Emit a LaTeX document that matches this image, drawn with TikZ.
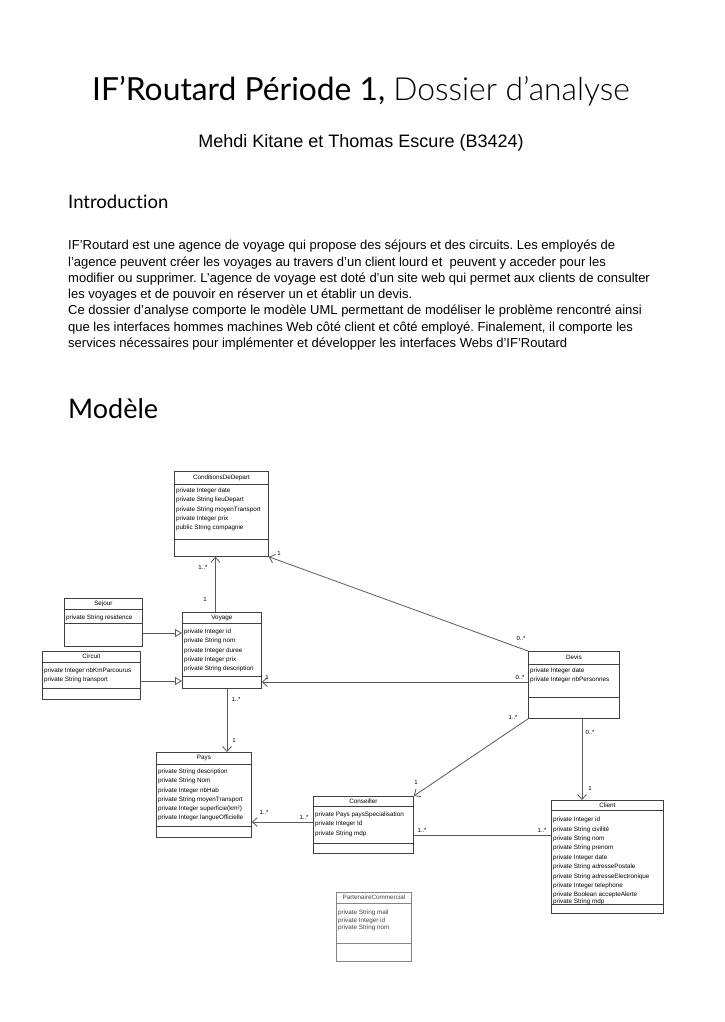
\documentclass[tikz,border=0pt]{standalone}
\usepackage{fontspec}
\setmainfont{Liberation Sans}
\newfontfamily\gill{Lato}[Ligatures={TeX,NoCommon}]
\newfontfamily\gilllight{Lato Light}[Ligatures={TeX,NoCommon}]
\usetikzlibrary{arrows.meta}
\definecolor{umlgray}{HTML}{404040}
\definecolor{linkgray}{HTML}{5A5A5A}
\definecolor{fadegray}{HTML}{858585}
\tikzset{
  umlbox/.style={draw=umlgray, line width=0.8pt, anchor=north west, inner sep=0pt},
  umlsep/.style={draw=umlgray, line width=0.8pt},
  umltitle/.style={font=\fontsize{6.3}{7}\selectfont, inner sep=0pt},
  umlattr/.style={font=\fontsize{6.3}{9.2}\selectfont, align=left, anchor=north west, inner sep=0pt},
  mult/.style={font=\fontsize{6}{7}\selectfont, inner sep=0pt},
  assoc/.style={draw=linkgray, line width=0.8pt},
  navig/.style={assoc, -{Straight Barb[length=5pt,width=9pt]}},
  generalise/.style={assoc, -{Triangle[open,length=7pt,width=8pt]}}
}
\frenchspacing

\begin{document}
\begin{tikzpicture}[x=1pt,y=-1pt]
\useasboundingbox[fill=white] (0,0) rectangle (724,1022);
\node[font=\gill\fontsize{31.8}{32}\selectfont, anchor=base] (title) at (361,101) {IF’Routard Période 1, {\gilllight Dossier d’analyse}};
\node[font=\fontsize{18}{18}\selectfont, anchor=base] (authors) at (361,147) {Mehdi Kitane et Thomas Escure (B3424)};
\node[font=\gill\fontsize{18.5}{19}\selectfont, anchor=base west, inner sep=0pt] (intro) at (68,208) {Introduction};
\node[font=\fontsize{13}{16.3}\selectfont, align=left, anchor=north west, inner sep=0pt] (introtext) at (68,240) {IF’Routard est une agence de voyage qui propose des séjours et des circuits. Les employés de\\
l’agence peuvent créer les voyages au travers d’un client lourd et \ peuvent y acceder pour les\\
modifier ou supprimer. L’agence de voyage est doté d’un site web qui permet aux clients de consulter\\
les voyages et de pouvoir en réserver un et établir un devis.\\
Ce dossier d’analyse comporte le modèle UML permettant de modéliser le problème rencontré ainsi\\
que les interfaces hommes machines Web côté client et côté employé. Finalement, il comporte les\\
services nécessaires pour implémenter et développer les interfaces Webs d’IF’Routard};
\node[font=\gill\fontsize{27}{27}\selectfont, anchor=base west, inner sep=0pt] (modele) at (68,418) {Modèle};

\node[umlbox, minimum width=94, minimum height=85] (cdd) at (174,471) {};
\draw[umlsep] ([yshift=-13pt]cdd.north west) -- ([yshift=-13pt]cdd.north east);
\draw[umlsep] ([yshift=-68pt]cdd.north west) -- ([yshift=-68pt]cdd.north east);
\node[umltitle] (cdd-title) at ([yshift=-6.5pt]cdd.north) {ConditionsDeDepart};
\node[umlattr] (cdd-attr) at (176,488) {private Integer date\\private String lieuDepart\\private String moyenTransport\\private Integer prix\\public String compagnie};

\node[umlbox, minimum width=78, minimum height=48] (sejour) at (64,598) {};
\draw[umlsep] ([yshift=-11pt]sejour.north west) -- ([yshift=-11pt]sejour.north east);
\draw[umlsep] ([yshift=-25pt]sejour.north west) -- ([yshift=-25pt]sejour.north east);
\node[umltitle] (sejour-title) at ([yshift=-5.5pt]sejour.north) {Sejour};
\node[umlattr] (sejour-attr) at (66,615) {private String residence};

\node[umlbox, minimum width=98, minimum height=48] (circuit) at (42,651) {};
\draw[umlsep] ([yshift=-11pt]circuit.north west) -- ([yshift=-11pt]circuit.north east);
\draw[umlsep] ([yshift=-37pt]circuit.north west) -- ([yshift=-37pt]circuit.north east);
\node[umltitle] (circuit-title) at ([yshift=-5.5pt]circuit.north) {Circuit};
\node[umlattr] (circuit-attr) at (44,668) {private Integer nbKmParcourus\\private String transport};

\node[umlbox, minimum width=79, minimum height=76] (voyage) at (182,612) {};
\draw[umlsep] ([yshift=-11pt]voyage.north west) -- ([yshift=-11pt]voyage.north east);
\draw[umlsep] ([yshift=-64pt]voyage.north west) -- ([yshift=-64pt]voyage.north east);
\node[umltitle] (voyage-title) at ([yshift=-5.5pt]voyage.north) {Voyage};
\node[umlattr] (voyage-attr) at (184,629) {private Integer id\\private String nom\\private Integer duree\\private Integer prix\\private String description};

\node[umlbox, minimum width=91, minimum height=67] (devis) at (528,651) {};
\draw[umlsep] ([yshift=-13pt]devis.north west) -- ([yshift=-13pt]devis.north east);
\draw[umlsep] ([yshift=-46pt]devis.north west) -- ([yshift=-46pt]devis.north east);
\node[umltitle] (devis-title) at ([yshift=-6.5pt]devis.north) {Devis};
\node[umlattr] (devis-attr) at (530,668) {private Integer date\\private Integer nbPersonnes};

\node[umlbox, minimum width=95, minimum height=85] (pays) at (156,752) {};
\draw[umlsep] ([yshift=-12pt]pays.north west) -- ([yshift=-12pt]pays.north east);
\draw[umlsep] ([yshift=-74pt]pays.north west) -- ([yshift=-74pt]pays.north east);
\node[umltitle] (pays-title) at ([yshift=-6pt]pays.north) {Pays};
\node[umlattr] (pays-attr) at (158,769) {private String description\\private String Nom\\private Integer nbHab\\private String moyenTransport\\private Integer superficie(km²)\\private Integer langueOfficielle};

\node[umlbox, minimum width=100, minimum height=57] (conseiller) at (313,796) {};
\draw[umlsep] ([yshift=-10pt]conseiller.north west) -- ([yshift=-10pt]conseiller.north east);
\draw[umlsep] ([yshift=-47pt]conseiller.north west) -- ([yshift=-47pt]conseiller.north east);
\node[umltitle] (conseiller-title) at ([yshift=-5pt]conseiller.north) {Conseiller};
\node[umlattr] (conseiller-attr) at (315,812) {private Pays paysSpecialisation\\private Integer Id\\private String mdp};

\node[umlbox, minimum width=112, minimum height=113] (client) at (551,800) {};
\draw[umlsep] ([yshift=-10pt]client.north west) -- ([yshift=-10pt]client.north east);
\draw[umlsep] ([yshift=-104pt]client.north west) -- ([yshift=-104pt]client.north east);
\node[umltitle] (client-title) at ([yshift=-5pt]client.north) {Client};
\node[umlattr, font=\fontsize{6.3}{9.4}\selectfont] (client-attr) at (553,817) {private Integer id\\private String civilité\\private String nom\\private String prenom\\private Integer date\\private String adressePostale\\private String adresseElectronique\\private Integer telephone\\private Boolean accepteAlerte\\[-2.4pt]private String mdp};

\node[umlbox, draw=fadegray, minimum width=75, minimum height=69] (partenaire) at (336,892) {};
\draw[umlsep, draw=fadegray] ([yshift=-11pt]partenaire.north west) -- ([yshift=-11pt]partenaire.north east);
\draw[umlsep, draw=fadegray] ([yshift=-51pt]partenaire.north west) -- ([yshift=-51pt]partenaire.north east);
\node[umltitle, text=umlgray] (partenaire-title) at ([yshift=-5.5pt]partenaire.north) {PartenaireCommercial};
\node[umlattr, text=umlgray, font=\fontsize{6.3}{7.6}\selectfont] (partenaire-attr) at (338,910) {private String mail\\private Integer id\\private String nom};

\draw[navig] ([xshift=-6.5pt]voyage.north) -- ([xshift=-6.5pt]voyage.north |- cdd.south);
\draw[navig] (devis.north west) -- (cdd.south east);
\draw[generalise] (sejour.east |- 0,633) -- (voyage.west |- 0,633);
\draw[generalise] (circuit.east |- 0,681) -- (voyage.west |- 0,681);
\draw[navig] (devis.west |- 0,682) -- (voyage.east |- 0,682);
\draw[navig] (voyage.south -| 227,0) -- (pays.north -| 227,0);
\draw[navig] (devis.south west) -- (conseiller.north east);
\draw[navig] (devis.south -| 582,0) -- (client.north -| 582,0);
\draw[navig] (conseiller.west |- 0,822) -- (pays.east |- 0,822);
\draw[assoc] (conseiller.east |- 0,835) -- (client.west |- 0,835);

\node[mult] (m1) at (203,567) {1..*};
\node[mult] (m2) at (205,599) {1};
\node[mult] (m3) at (279,553) {1};
\node[mult] (m4) at (521,638) {0..*};
\node[mult] (m5) at (267,677) {1};
\node[mult] (m6) at (520,677) {0..*};
\node[mult] (m7) at (236,699) {1..*};
\node[mult] (m8) at (234,740) {1};
\node[mult] (m9) at (416,782) {1};
\node[mult] (m10) at (513,717) {1..*};
\node[mult] (m11) at (590,732) {0..*};
\node[mult] (m12) at (590,788) {1};
\node[mult] (m13) at (264,812) {1..*};
\node[mult] (m14) at (304,817) {1..*};
\node[mult] (m15) at (422,830) {1..*};
\node[mult] (m16) at (542,830) {1..*};
\end{tikzpicture}
\end{document}
